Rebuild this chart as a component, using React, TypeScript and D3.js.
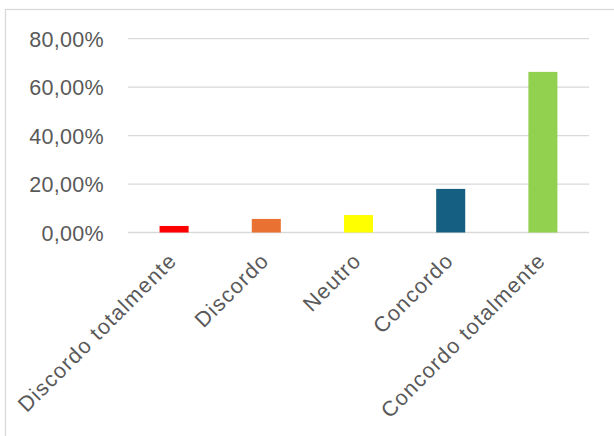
import React from "react";
import * as d3 from "d3";

const categories = ["Discordo totalmente", "Discordo", "Neutro", "Concordo", "Concordo totalmente"];
const values = [0.027, 0.056, 0.072, 0.18, 0.663];
const colors = ["#ff0000", "#e97132", "#ffff00", "#156082", "#92d050"];
const yTicks = [0, 0.2, 0.4, 0.6, 0.8];

const W = 614;
const H = 436;
const FONT = "'Liberation Sans', Arial, sans-serif";
const TEXT = "#595959";

const locale = d3.formatLocale({ decimal: ",", thousands: ".", grouping: [3], currency: ["", "€"] });
const fmt = locale.format(".2%");

export default function App() {
  const x = d3.scaleBand<string>().domain(categories).range([128, 589]).padding(0);
  const y = d3.scaleLinear().domain([0, 0.8]).range([232.5, 38.7]);
  const bw = x.bandwidth() * 0.315;

  return (
    <svg width={W} height={H} style={{ position: "absolute", left: 0, top: 0, background: "#fff" }}>
      <rect x={5.5} y={9.5} width={700} height={600} fill="#fff" stroke="#d9d9d9" strokeWidth={1.3} />
      {yTicks.map((t) => (
        <g key={t}>
          <line x1={128} x2={589} y1={y(t)} y2={y(t)} stroke="#d9d9d9" strokeWidth={t === 0 ? 1.7 : 1.3} />
          <text x={104} y={y(t) + 8} textAnchor="end" fontFamily={FONT} fontSize={21.5} letterSpacing={0.3} fill={TEXT}>
            {fmt(t)}
          </text>
        </g>
      ))}
      {categories.map((c, i) => (
        <rect
          key={c}
          x={(x(c) as number) + x.bandwidth() / 2 - bw / 2}
          y={y(values[i])}
          width={bw}
          height={y(0) - y(values[i])}
          fill={colors[i]}
        />
      ))}
      {categories.map((c) => {
        const cx = (x(c) as number) + x.bandwidth() / 2 + 4;
        const cy = 262;
        return (
          <text
            key={c}
            transform={`translate(${cx},${cy}) rotate(-45)`}
            textAnchor="end"
            fontFamily={FONT}
            fontSize={21.5}
            letterSpacing={1.2}
            fill={TEXT}
          >
            {c}
          </text>
        );
      })}
    </svg>
  );
}
